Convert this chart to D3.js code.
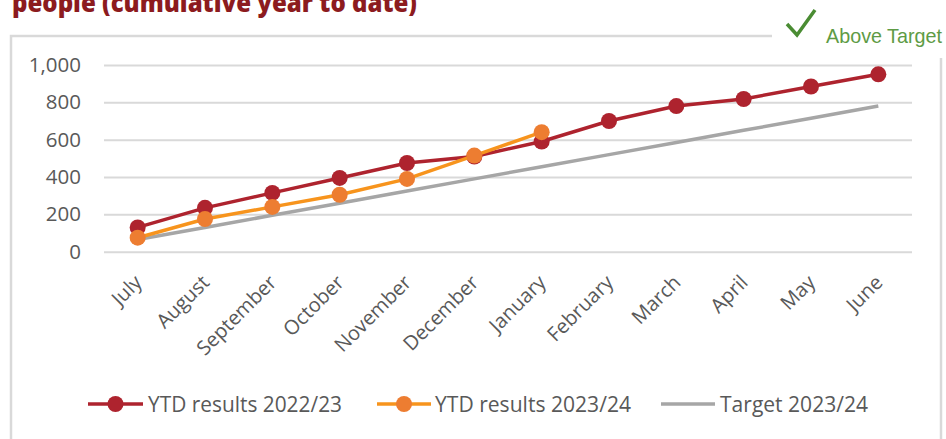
<!DOCTYPE html>
<html lang="en">
<head>
<meta charset="utf-8">
<title>YTD results</title>
<script src="https://cdn.jsdelivr.net/npm/d3@7"></script>
<style>
  body { margin: 0; background: #fff; }
  svg { display: block; font-family: "Open Sans", sans-serif; }
</style>
</head>
<body>
<script>
// data
const months = ["July", "August", "September", "October", "November", "December",
  "January", "February", "March", "April", "May", "June"];
const ytd2223 = [130, 235, 315, 395, 475, 510, 590, 700, 780, 818, 885, 950];
const ytd2324 = [75, 175, 240, 305, 390, 515, 640];
const target2324 = [65, 130, 195, 260, 325, 390, 455, 520, 585, 650, 715, 780];
const yTicks = [0, 200, 400, 600, 800, 1000];

const seriesNames = ["YTD results 2022/23", "YTD results 2023/24", "Target 2023/24"];

const w = 946, h = 439;
const red = "#AE232E", orange = "#F7941D", orangeMark = "#ED7D31", grey = "#A6A6A6";
const grid = "#D9D9D9", textCol = "#595959";

const svg = d3.select("body").append("svg")
  .attr("width", w)
  .attr("height", h);

// chart frame (top edge stops where the "Above Target" box sits)
svg.append("path")
  .attr("d", "M772,36 H11 V439 M941,58 V439")
  .attr("fill", "none")
  .attr("stroke", grid)
  .attr("stroke-width", 2.5);

// title, cut at the top like in the source
svg.append("text")
  .attr("x", 12)
  .attr("y", 12)
  .attr("textLength", 405)
  .attr("lengthAdjust", "spacingAndGlyphs")
  .attr("font-size", 26)
  .attr("font-weight", 800)
  .attr("fill", "#8C1B1E")
  .text("people (cumulative year to date)");

// above target badge
svg.append("path")
  .attr("d", "M787,24 L797,35 L815,10")
  .attr("fill", "none")
  .attr("stroke", "#4A8C33")
  .attr("stroke-width", 3.5)
  .attr("stroke-linejoin", "miter");
svg.append("text")
  .attr("x", 826)
  .attr("y", 43)
  .attr("textLength", 116)
  .attr("lengthAdjust", "spacingAndGlyphs")
  .attr("font-family", "'Liberation Sans Narrow', 'Liberation Sans', sans-serif")
  .attr("font-size", 21)
  .attr("fill", "#5E9B45")
  .text("Above Target");

// scales
const x = d3.scalePoint().domain(months).range([104, 912]).padding(0.5);
const y = d3.scaleLinear().domain([0, 1000]).range([251.7, 65]);

// y axis + gridlines
const yAxis = svg.append("g")
  .attr("transform", "translate(104,0)")
  .call(d3.axisLeft(y).tickValues(yTicks).tickSize(-808).tickPadding(23).tickFormat(d3.format(",")));
yAxis.select(".domain").remove();
yAxis.selectAll("line").attr("stroke", grid).attr("stroke-width", 2);
yAxis.selectAll("text")
  .attr("font-size", 20.5)
  .attr("fill", textCol)
  .attr("font-family", "'Open Sans', sans-serif");

// x axis labels
const xAxis = svg.append("g")
  .attr("transform", "translate(0,251.7)")
  .call(d3.axisBottom(x).tickSize(0));
xAxis.select(".domain").remove();
xAxis.selectAll("text")
  .attr("font-size", 20)
  .attr("fill", textCol)
  .attr("font-family", "'Open Sans', sans-serif")
  .attr("text-anchor", "end")
  .attr("dy", null)
  .attr("y", 0)
  .attr("transform", "translate(5,32) rotate(-45)");

const line = d3.line()
  .x((d, i) => x(months[i]))
  .y(d => y(d));

// target
svg.append("path")
  .datum(target2324)
  .attr("d", line)
  .attr("fill", "none")
  .attr("stroke", grey)
  .attr("stroke-width", 3.5);

// 2022/23
svg.append("path")
  .datum(ytd2223)
  .attr("d", line)
  .attr("fill", "none")
  .attr("stroke", red)
  .attr("stroke-width", 3.5);
svg.selectAll("circle.s1")
  .data(ytd2223)
  .enter()
  .append("circle")
  .attr("class", "s1")
  .attr("cx", (d, i) => x(months[i]))
  .attr("cy", d => y(d))
  .attr("r", 8)
  .attr("fill", red);

// 2023/24
svg.append("path")
  .datum(ytd2324)
  .attr("d", line)
  .attr("fill", "none")
  .attr("stroke", orange)
  .attr("stroke-width", 3.5);
svg.selectAll("circle.s2")
  .data(ytd2324)
  .enter()
  .append("circle")
  .attr("class", "s2")
  .attr("cx", (d, i) => x(months[i]))
  .attr("cy", d => y(d))
  .attr("r", 8)
  .attr("fill", orangeMark);

// legend
const legendItems = [
  { x1: 88, x2: 143, color: red, mark: red, textX: 148, len: 194 },
  { x1: 377, x2: 431, color: orange, mark: orangeMark, textX: 435, len: 196 },
  { x1: 661, x2: 715, color: grey, mark: null, textX: 720, len: 148 }
];
const legend = svg.append("g");
legendItems.forEach(function (d, i) {
  legend.append("line")
    .attr("x1", d.x1).attr("x2", d.x2)
    .attr("y1", 404).attr("y2", 404)
    .attr("stroke", d.color)
    .attr("stroke-width", 3.5);
  if (d.mark) {
    legend.append("circle")
      .attr("cx", (d.x1 + d.x2) / 2)
      .attr("cy", 404)
      .attr("r", 8)
      .attr("fill", d.mark);
  }
  legend.append("text")
    .attr("x", d.textX)
    .attr("y", 412)
    .attr("textLength", d.len)
    .attr("lengthAdjust", "spacingAndGlyphs")
    .attr("font-size", 22)
    .attr("fill", textCol)
    .text(seriesNames[i]);
});
</script>
</body>
</html>
